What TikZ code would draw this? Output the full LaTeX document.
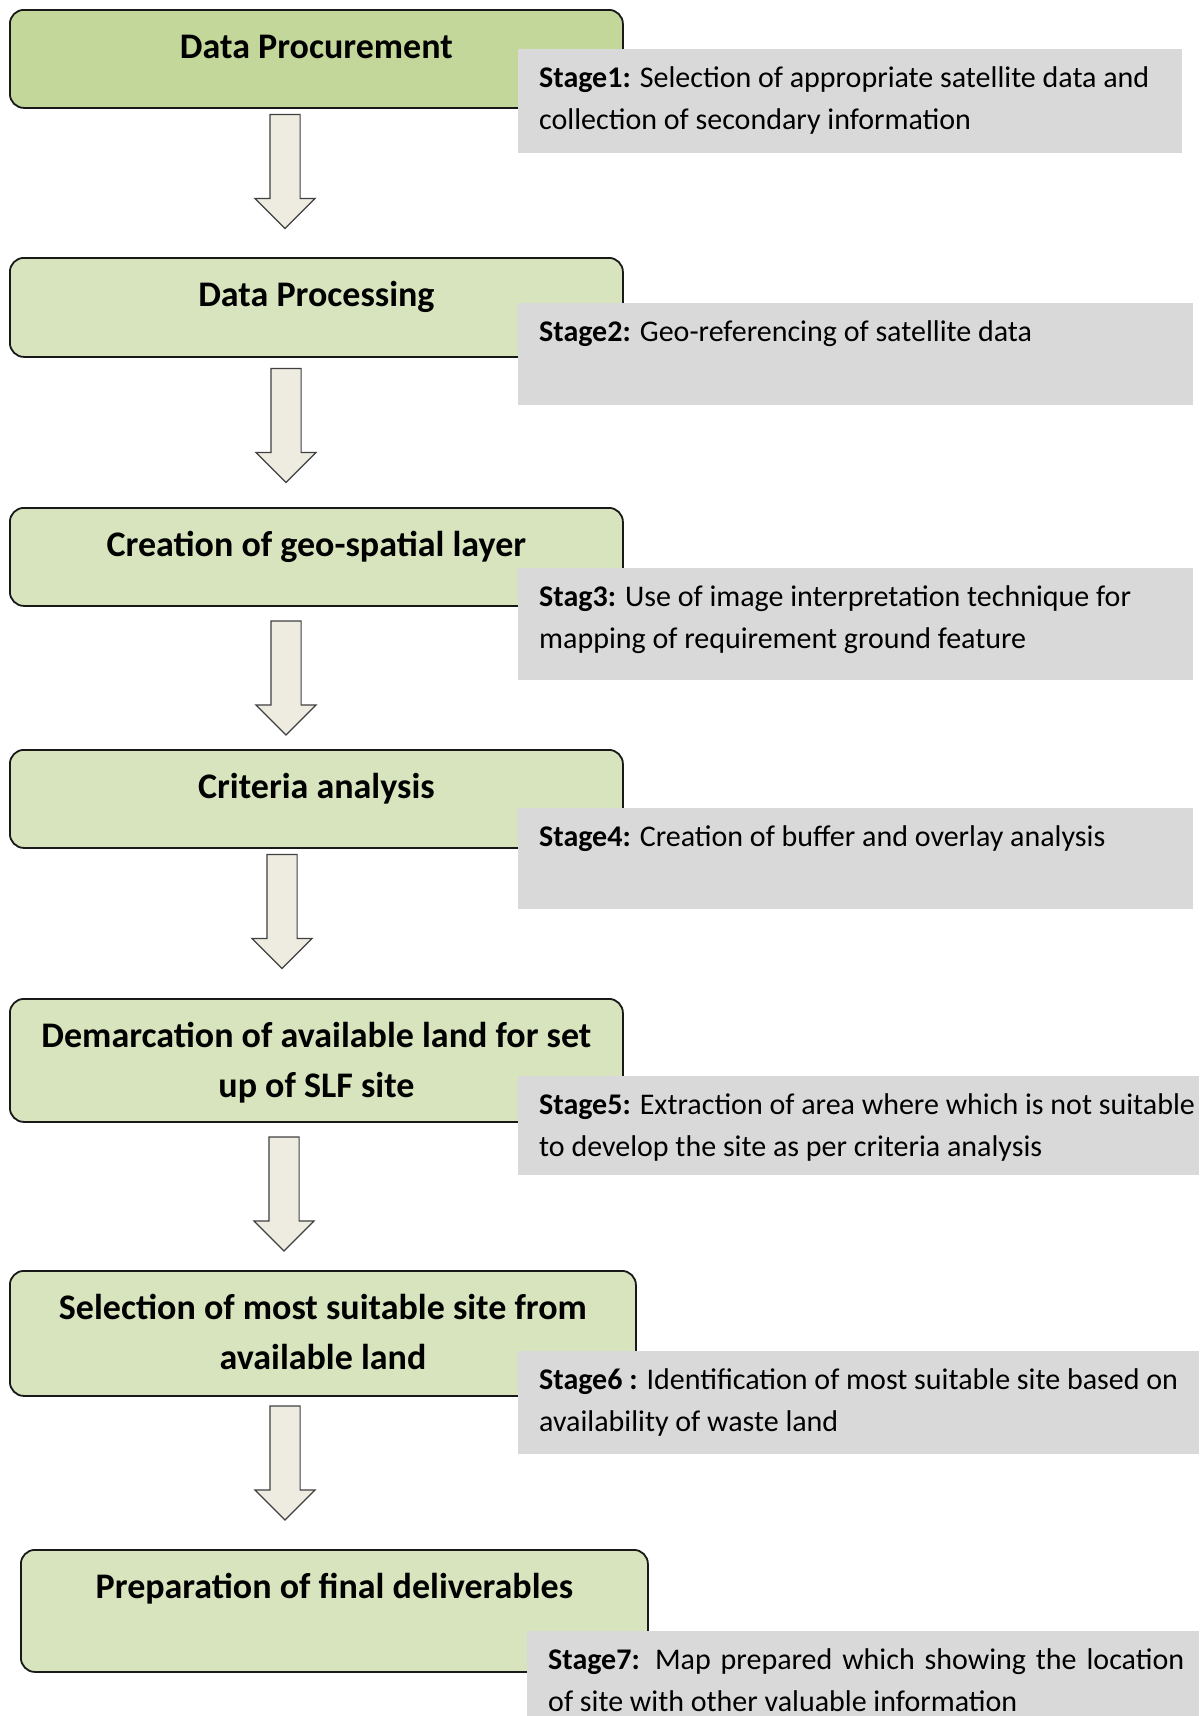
\documentclass[tikz,border=0pt]{standalone}
\usepackage{fontspec}
\setmainfont{Carlito}
\usetikzlibrary{positioning,shapes.arrows}

\definecolor{procGreen}{HTML}{C4D79B}
\definecolor{stepGreen}{HTML}{D7E4BD}
\definecolor{noteGray}{HTML}{D9D9D9}
\definecolor{arrowFill}{HTML}{EEECE1}

\begin{document}
\begin{tikzpicture}
[x=1pt,y=-1pt,
 stepDecorate/.style={shape=rectangle,rounded corners=14pt,draw=black!90,line width=1.8pt,inner sep=0pt,anchor=north west},%
 titleDecorate/.style={anchor=north,inner sep=0pt,align=center,font=\fontsize{36}{50}\selectfont\bfseries},%
 noteDecorate/.style={shape=rectangle,fill=noteGray,inner sep=0pt,anchor=north west},%
 noteText/.style={anchor=north west,inner sep=0pt,align=left,font=\fontsize{30}{42}\selectfont},%
 arrowDecorate/.style={shape=single arrow,draw=black!75,line width=1.2pt,fill=arrowFill,inner xsep=0pt,inner ysep=14.5pt,single arrow head extend=15pt,single arrow tip angle=90,rotate=-90}]
\useasboundingbox (0,0) rectangle (1203,1716);
%% process boxes
\foreach \n/\x/\y/\w/\h/\fillc/\txt in {
  1/9/9/613/98/procGreen/{Data Procurement},
  2/9/257/613/99/stepGreen/{Data Processing},
  3/9/507/613/98/stepGreen/{Creation of geo-spatial layer},
  4/9/749/613/98/stepGreen/{Criteria analysis},
  5/9/998/613/123/stepGreen/{Demarcation of available land for set\\up of SLF site},
  6/9/1270/626/125/stepGreen/{Selection of most suitable site from\\available land},
  7/20/1549/627/122/stepGreen/{Preparation of final deliverables}}
{
  \node (step\n) at (\x,\y) [stepDecorate,fill=\fillc,minimum width=\w pt,minimum height=\h pt] {};
  \node (title\n) [titleDecorate,below=14pt of step\n.north] {\strut\txt};
}
%% stage notes
\foreach \n/\x/\y/\w/\h/\txt in {
  1/518/49/664/104/{\textbf{Stage1:} Selection of appropriate satellite data and\\collection of secondary information},
  2/518/303/675/102/{\textbf{Stage2:} Geo-referencing of satellite data},
  3/518/568/675/112/{\textbf{Stag3:} Use of image interpretation technique for\\mapping of requirement ground feature},
  4/518/808/675/101/{\textbf{Stage4:} Creation of buffer and overlay analysis},
  5/518/1076/681/99/{\textbf{Stage5:} Extraction of area where which is not suitable\\to develop the site as per criteria analysis},
  6/518/1351/681/103/{\textbf{Stage6 :} Identification of most suitable site based on\\availability of waste land},
  7/527/1631/672/90/{\makebox[636pt][s]{\textbf{Stage7:} Map prepared which showing the location}\\of site with other valuable information}}
{
  \node (note\n) at (\x,\y) [noteDecorate,minimum width=\w pt,minimum height=\h pt] {};
  \node (text\n) [noteText,below right=8.6pt and 21pt of note\n.north west] {\strut\txt};
}
%% block arrows
\foreach \n/\x/\y in {1/285/164, 2/286/418, 3/286/670.5, 4/282/904, 5/284/1186.5, 6/285/1455.5}
{
  \node (arrow\n) at (\x,\y) [arrowDecorate,minimum height=114pt] {};
}
\end{tikzpicture}
\end{document}
